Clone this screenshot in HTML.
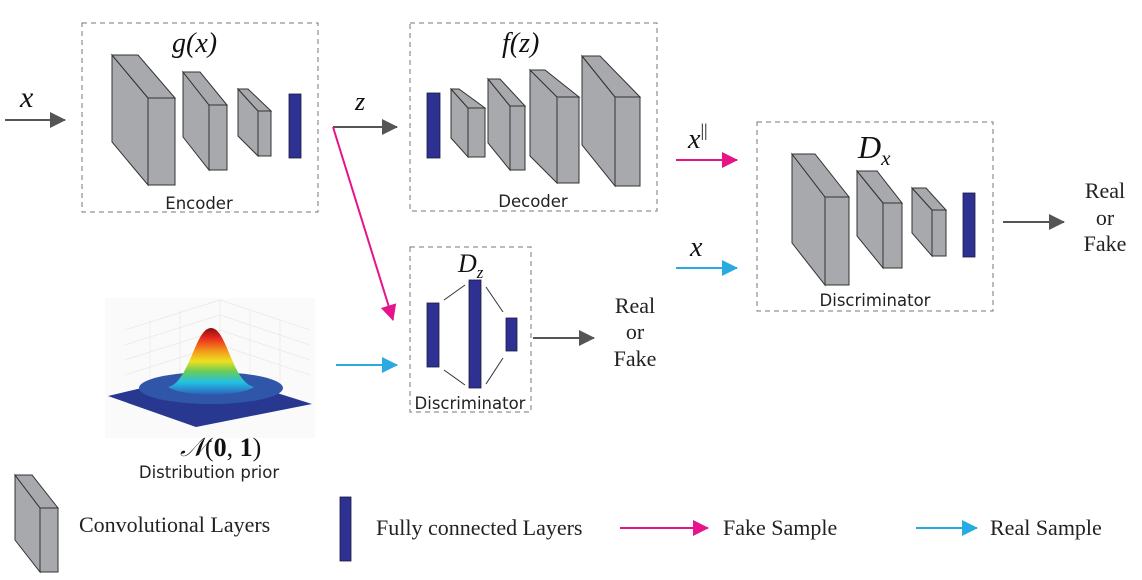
<!DOCTYPE html>
<html><head><meta charset="utf-8"><style>
html,body{margin:0;padding:0;background:#fff;}
svg{display:block}
.m{font-family:"Liberation Serif",serif;font-style:italic}
.s{font-family:"DejaVu Sans","Liberation Sans",sans-serif;font-size:16.5px;fill:#222}
.r{font-family:"Liberation Serif",serif;font-size:22px;fill:#222}
</style></head><body>
<svg width="1142" height="580" viewBox="0 0 1142 580" xmlns="http://www.w3.org/2000/svg">
<defs>
<marker id="ag" markerWidth="16" markerHeight="16" refX="15" refY="8" orient="auto" markerUnits="userSpaceOnUse"><path d="M0,0 L16,8 L0,16Z" fill="#555"/></marker>
<marker id="ap" markerWidth="16" markerHeight="16" refX="15" refY="8" orient="auto" markerUnits="userSpaceOnUse"><path d="M0,0 L16,8 L0,16Z" fill="#e6138c"/></marker>
<marker id="ac" markerWidth="16" markerHeight="16" refX="15" refY="8" orient="auto" markerUnits="userSpaceOnUse"><path d="M0,0 L16,8 L0,16Z" fill="#29abe2"/></marker>
<linearGradient id="gh" x1="0" y1="0" x2="0" y2="1">
<stop offset="0" stop-color="#8a0f0f"/><stop offset="0.15" stop-color="#e8281e"/><stop offset="0.35" stop-color="#f29a1b"/><stop offset="0.5" stop-color="#eee020"/><stop offset="0.65" stop-color="#6ccc55"/><stop offset="0.82" stop-color="#22c0e6"/><stop offset="1" stop-color="#2d63b8"/>
</linearGradient>
</defs>
<g fill="none" stroke="#777" stroke-dasharray="5,4" stroke-width="1">
<rect x="82" y="23" width="236" height="189"/>
<rect x="410" y="23" width="247" height="188"/>
<rect x="757" y="122" width="236" height="189"/>
<rect x="410" y="247" width="121" height="165"/>
</g>
<g fill="#a7a9ac" stroke="#333" stroke-width="1">
<polygon points="112,55 148,98 148,185 112,142"/><polygon points="112,55 138,55 175,98 148,98"/><rect x="148" y="98" width="27" height="87"/>
<polygon points="183,72 209,105 209,170 183,137"/><polygon points="183,72 200,72 227,105 209,105"/><rect x="209" y="105" width="18" height="65"/>
<polygon points="238,89 258,111 258,156 238,136"/><polygon points="238,89 248,89 271,111 258,111"/><rect x="258" y="111" width="13" height="45"/>
<polygon points="451,89 468,108 468,157 451,138"/><polygon points="451,89 459,89 485,108 468,108"/><rect x="468" y="108" width="17" height="49"/>
<polygon points="488,79 510,106 510,170 488,143"/><polygon points="488,79 500,79 525,106 510,106"/><rect x="510" y="106" width="15" height="64"/>
<polygon points="530,70 557,97 557,183 530,156"/><polygon points="530,70 545,70 579,97 557,97"/><rect x="557" y="97" width="22" height="86"/>
<polygon points="582,56 615,97 615,186 582,145"/><polygon points="582,56 600,56 640,97 615,97"/><rect x="615" y="97" width="25" height="89"/>
<polygon points="792,154 825,197 825,285 792,243"/><polygon points="792,154 815,154 849,197 825,197"/><rect x="825" y="197" width="24" height="88"/>
<polygon points="857,171 883,203 883,268 857,236"/><polygon points="857,171 877,171 902,203 883,203"/><rect x="883" y="203" width="19" height="65"/>
<polygon points="912,188 932,210 932,256 912,233"/><polygon points="912,188 926,188 946,210 932,210"/><rect x="932" y="210" width="14" height="46"/>
<polygon points="15,475 40,508 40,572 15,540"/><polygon points="15,475 32,475 58,508 40,508"/><rect x="40" y="508" width="18" height="64"/>
</g>
<g fill="#2e3192" stroke="#1a1a40" stroke-width="0.8">
<rect x="289" y="94" width="12" height="64"/>
<rect x="427" y="93" width="13" height="65"/>
<rect x="963" y="193" width="12" height="64"/>
<rect x="427" y="303" width="12" height="64"/>
<rect x="469" y="280" width="12" height="108"/>
<rect x="506" y="318" width="11" height="33"/>
<rect x="340" y="497" width="11" height="64"/>
</g>
<g stroke="#333" stroke-width="1">
<line x1="444" y1="300" x2="465" y2="285"/><line x1="444" y1="370" x2="465" y2="385"/>
<line x1="486" y1="287" x2="503" y2="312"/><line x1="486" y1="384" x2="503" y2="358"/>
</g>
<g>
<rect x="105" y="298" width="210" height="140" fill="#fafafa"/>
<g stroke="#e4e4e4" stroke-width="0.6" fill="none">
<path d="M125,330 L220,300 L310,330 M125,345 L220,315 L310,345 M125,360 L220,330 L310,360 M125,375 L220,345 L310,375 M150,320 L150,400 M180,310 L180,400 M250,310 L250,400 M280,320 L280,400 M220,300 L220,360"/>
</g>
<polygon points="108,396 210,372 312,404 196,427" fill="#28378f"/>
<ellipse cx="211" cy="388" rx="72" ry="16" fill="#2f56a8"/>
<path d="M168,387 C190,382 195,328 211,328 C227,328 232,382 254,387 C240,397 182,397 168,387Z" fill="url(#gh)"/>
</g>
<g stroke-width="2" fill="none">
<line x1="5" y1="120" x2="65" y2="120" stroke="#555" marker-end="url(#ag)"/>
<line x1="333" y1="127" x2="397" y2="127" stroke="#555" marker-end="url(#ag)"/>
<line x1="333" y1="127" x2="393" y2="320" stroke="#e6138c" marker-end="url(#ap)"/>
<line x1="336" y1="365" x2="397" y2="365" stroke="#29abe2" marker-end="url(#ac)"/>
<line x1="533" y1="338" x2="594" y2="338" stroke="#555" marker-end="url(#ag)"/>
<line x1="676" y1="160" x2="737" y2="160" stroke="#e6138c" marker-end="url(#ap)"/>
<line x1="676" y1="268" x2="737" y2="268" stroke="#29abe2" marker-end="url(#ac)"/>
<line x1="1003" y1="222" x2="1064" y2="222" stroke="#555" marker-end="url(#ag)"/>
<line x1="620" y1="528" x2="708" y2="528" stroke="#e6138c" marker-end="url(#ap)"/>
<line x1="916" y1="528" x2="977" y2="528" stroke="#29abe2" marker-end="url(#ac)"/>
</g>
<g fill="#111">
<text x="20" y="107" class="m" font-size="30">x</text>
<text x="172" y="52" class="m" font-size="28">g(x)</text>
<text x="355" y="110" class="m" font-size="26">z</text>
<text x="502" y="52" class="m" font-size="28">f(z)</text>
<text x="458" y="272" class="m" font-size="26">D<tspan font-size="17" dy="6">z</tspan></text>
<text x="858" y="158" class="m" font-size="32">D<tspan font-size="21" dy="7">x</tspan></text>
<text x="688" y="148" class="m" font-size="28">x<tspan font-size="18" font-style="normal" dy="-12">||</tspan></text>
<text x="690" y="256" class="m" font-size="28">x</text>
<text x="180" y="456" class="m" font-size="26">𝒩<tspan font-style="normal">(<tspan font-weight="bold">0</tspan>, <tspan font-weight="bold">1</tspan>)</tspan></text>
</g>
<text x="199" y="209" class="s" text-anchor="middle">Encoder</text>
<text x="533" y="207" class="s" text-anchor="middle">Decoder</text>
<text x="470" y="409" class="s" text-anchor="middle" font-size="17">Discriminator</text>
<text x="875" y="306" class="s" text-anchor="middle" font-size="17">Discriminator</text>
<text x="209" y="478" class="s" text-anchor="middle" font-size="17.5">Distribution prior</text>
<g class="r" text-anchor="middle">
<text x="635" y="313">Real</text><text x="635" y="339">or</text><text x="635" y="366">Fake</text>
<text x="1105" y="198">Real</text><text x="1105" y="225">or</text><text x="1105" y="251">Fake</text>
</g>
<g class="r">
<text x="79" y="532">Convolutional Layers</text>
<text x="376" y="535">Fully connected Layers</text>
<text x="723" y="535">Fake Sample</text>
<text x="990" y="535">Real Sample</text>
</g>
</svg>
</body></html>
